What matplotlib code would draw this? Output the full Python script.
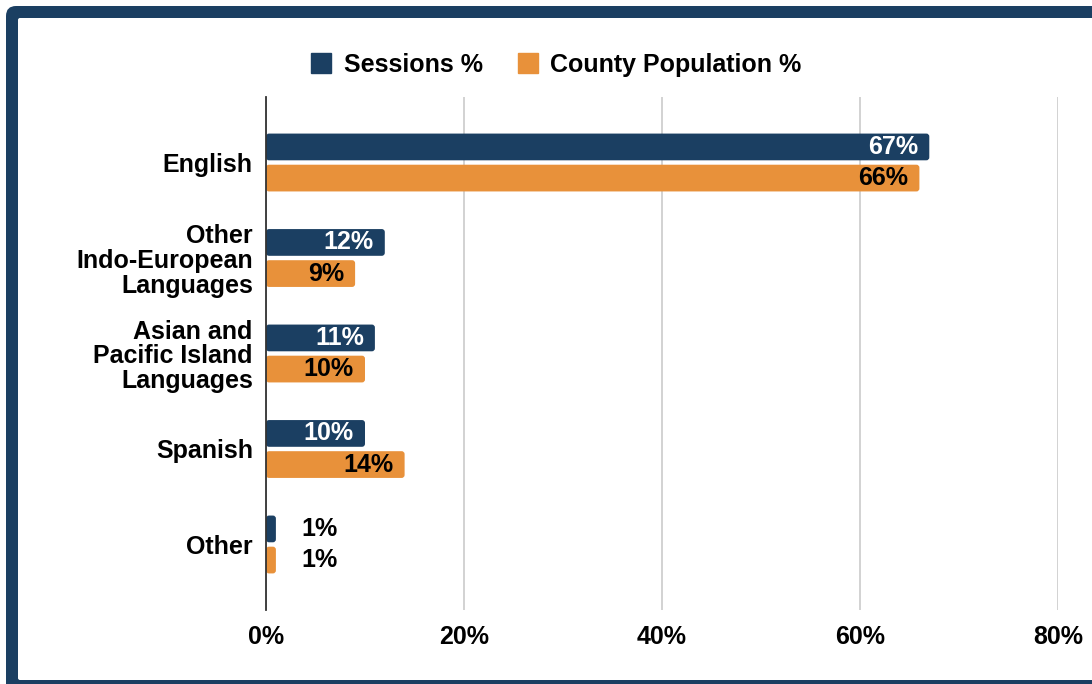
import matplotlib
matplotlib.use("Agg")
import matplotlib.pyplot as plt
from matplotlib.patches import FancyBboxPatch
from matplotlib.lines import Line2D

plt.rcParams['font.family'] = ['Liberation Sans', 'DejaVu Sans']
plt.rcParams['font.weight'] = 'bold'

# data
languages = ["English", "Other\nIndo-European\nLanguages",
             "Asian and\nPacific Island\nLanguages", "Spanish", "Other"]
sessions_pct = [67, 12, 11, 10, 1]
population_pct = [66, 9, 10, 14, 1]
x_ticks = [0, 20, 40, 60, 80]

NAVY = "#1b3f62"
ORANGE = "#e8913a"
BAR_H = 0.28
OFFSET = 0.163
FS = 18

fig = plt.figure(figsize=(10.92, 6.84), dpi=100)
fig.patch.set_facecolor("white")

# navy frame: filled outer card with a white panel on top (inches)
outer = FancyBboxPatch((0.06, -0.5), 11.5, 6.78 + 0.5,
                       boxstyle="round,pad=0,rounding_size=0.1",
                       transform=fig.dpi_scale_trans, facecolor=NAVY,
                       edgecolor="none", zorder=-2)
inner = FancyBboxPatch((0.18, 0.04), 11.5, 6.66 - 0.04,
                       boxstyle="round,pad=0,rounding_size=0.02",
                       transform=fig.dpi_scale_trans, facecolor="white",
                       edgecolor="none", zorder=-1)
fig.patches.extend([outer, inner])

W, H = 1092, 684
ax = fig.add_axes([266 / W, 1 - 610 / H, 792 / W, 513 / H])
ax.set_facecolor("none")

ypos = list(range(len(languages)))
px_x = 80 / 792.0      # data units per pixel along x
px_y = 1 / 95.5        # data units per pixel along y


def rounded_bars(values, shift, color):
    for y, v in zip(ypos, values):
        p = FancyBboxPatch((0, y + shift - BAR_H / 2), v, BAR_H,
                           boxstyle="round,pad=0,rounding_size=%f" % (3 * px_x),
                           mutation_aspect=px_y / px_x,
                           facecolor=color, edgecolor="none", zorder=3)
        ax.add_patch(p)


rounded_bars(sessions_pct, -OFFSET, NAVY)
rounded_bars(population_pct, OFFSET, ORANGE)

# value labels: inside the bar end, or just outside for tiny bars
for vals, shift, inner_color in [(sessions_pct, -OFFSET, "white"),
                                 (population_pct, OFFSET, "black")]:
    for y, v in zip(ypos, vals):
        if v >= 5:
            ax.annotate(f"{v}%", (v, y + shift), xytext=(-8, 0),
                        textcoords="offset points", ha="right", va="center",
                        color=inner_color, fontsize=FS, fontweight="bold",
                        zorder=4)
        else:
            ax.annotate(f"{v}%", (v, y + shift), xytext=(18, 0),
                        textcoords="offset points", ha="left", va="center",
                        color="black", fontsize=FS, fontweight="bold",
                        zorder=4)

ax.set_xlim(0, 80)
ax.set_ylim(4.686, -0.686)
ax.set_yticks(ypos)
ax.set_yticklabels(languages, fontsize=FS, fontweight="bold",
                   linespacing=1.05)
ax.set_xticks(x_ticks)
ax.set_xticklabels([f"{t}%" for t in x_ticks], fontsize=FS,
                   fontweight="bold")
ax.tick_params(axis="both", length=0)
ax.tick_params(axis="y", pad=9.5)
ax.tick_params(axis="x", pad=11)

ax.grid(axis="x", color="#cfcfcf", linewidth=1.3, zorder=0)
ax.set_axisbelow(True)
for side in ["top", "right", "bottom"]:
    ax.spines[side].set_visible(False)
ax.spines["left"].set_color("#333333")
ax.spines["left"].set_linewidth(1.3)
ax.spines["left"].set_zorder(5)

handles = [Line2D([], [], marker="s", linestyle="none", markersize=15,
                  markerfacecolor=NAVY, markeredgecolor=NAVY),
           Line2D([], [], marker="s", linestyle="none", markersize=15,
                  markerfacecolor=ORANGE, markeredgecolor=ORANGE)]
fig.legend(handles, ["Sessions %", "County Population %"], loc="center",
           bbox_to_anchor=(555 / W, 1 - 65 / H), ncol=2, frameon=False,
           prop={"size": FS, "weight": "bold"}, handletextpad=0.4,
           columnspacing=1.3, handlelength=1.0)

fig.savefig("out.png", dpi=100, facecolor="white")
